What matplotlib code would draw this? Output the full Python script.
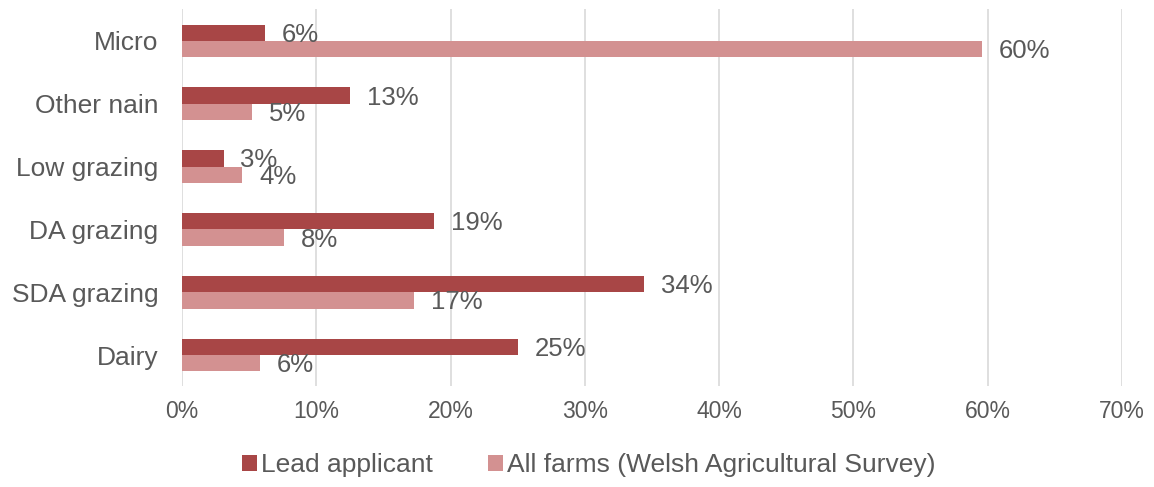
import matplotlib.pyplot as plt
import numpy as np

categories = ['Micro', 'Other nain', 'Low grazing', 'DA grazing', 'SDA grazing', 'Dairy']
lead_applicant = [6.2, 12.5, 3.1, 18.8, 34.4, 25.0]
all_farms = [59.6, 5.2, 4.5, 7.6, 17.3, 5.8]
lead_labels = ['6%', '13%', '3%', '19%', '34%', '25%']
all_labels = ['60%', '5%', '4%', '8%', '17%', '6%']
xticks = [0, 10, 20, 30, 40, 50, 60, 70]

plt.rcParams['font.family'] = ['Liberation Sans', 'DejaVu Sans']
txt = '#595959'

fig = plt.figure(figsize=(11.54, 4.87), dpi=100)
ax = fig.add_axes([0.1577, 0.2064, 0.8146, 0.7741])

y = np.arange(len(categories))
h = 0.26
b1 = ax.barh(y - h / 2, lead_applicant, height=h, color='#A84646', label='Lead applicant')
b2 = ax.barh(y + h / 2, all_farms, height=h, color='#D39191',
             label='All farms (Welsh Agricultural Survey)')

for bars, labs in ((b1, lead_labels), (b2, all_labels)):
    for bar, lab in zip(bars, labs):
        ax.annotate(lab, (bar.get_width(), bar.get_y() + bar.get_height() / 2),
                    xytext=(12, -1.5), textcoords='offset points',
                    ha='left', va='center', fontsize=18.5, color=txt)

ax.set_ylim(len(categories) - 0.5, -0.5)
ax.set_xlim(0, 70)
ax.set_yticks(y)
ax.set_yticklabels(categories, fontsize=19, color=txt)
ax.set_xticks(xticks)
ax.set_xticklabels(['{}%'.format(v) for v in xticks], fontsize=16.5, color=txt)
ax.tick_params(length=0)
ax.tick_params(axis='x', pad=10)
ax.tick_params(axis='y', pad=17)
ax.grid(axis='x', color='#d9d9d9', linewidth=1.2)
ax.set_axisbelow(True)
for s in ax.spines.values():
    s.set_visible(False)

leg = ax.legend(loc='center', bbox_to_anchor=(0.51, 0.045), bbox_transform=fig.transFigure,
                ncol=2, frameon=False, fontsize=19, handlelength=0.57, handleheight=0.57,
                handletextpad=0.15, columnspacing=2.1)
for t in leg.get_texts():
    t.set_color(txt)

fig.savefig('out.png', dpi=100)
